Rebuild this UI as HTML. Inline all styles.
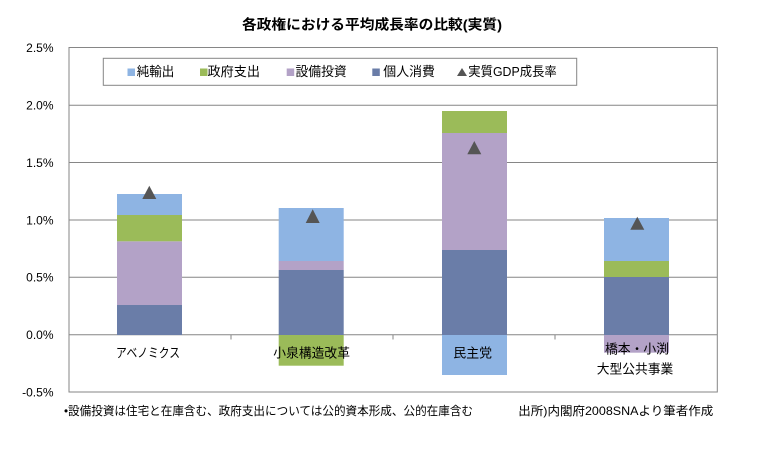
<!DOCTYPE html>
<html><head><meta charset="utf-8"><style>
html,body{margin:0;padding:0;background:#fff;}
svg{display:block;}
text{font-family:"Liberation Sans","Noto Sans CJK JP",sans-serif;fill:#000;}
</style></head><body>
<svg width="764" height="452" viewBox="0 0 764 452" xmlns="http://www.w3.org/2000/svg">
<rect x="0" y="0" width="764" height="452" fill="#fff"/>
<!-- title -->
<text x="242" y="29.5" font-size="14" font-weight="bold" textLength="260" lengthAdjust="spacingAndGlyphs">各政権における平均成長率の比較(実質)</text>
<!-- gridlines -->
<g stroke="#868686" stroke-width="1">
<line x1="69" y1="105.3" x2="717.3" y2="105.3"/>
<line x1="69" y1="162.5" x2="717.3" y2="162.5"/>
<line x1="69" y1="220" x2="717.3" y2="220"/>
<line x1="69" y1="277.3" x2="717.3" y2="277.3"/>
<line x1="69" y1="334.8" x2="717.3" y2="334.8"/>
<line x1="231" y1="334.8" x2="231" y2="339.5"/>
<line x1="393" y1="334.8" x2="393" y2="339.5"/>
<line x1="555" y1="334.8" x2="555" y2="339.5"/>
</g>
<!-- bars -->
<!-- Abenomics -->
<rect x="117" y="305" width="65" height="30" fill="#6A7DA8"/>
<rect x="117" y="241.3" width="65" height="63.7" fill="#B3A2C7"/>
<rect x="117" y="215" width="65" height="26.3" fill="#9BBB59"/>
<rect x="117" y="194" width="65" height="21" fill="#8EB4E3"/>
<!-- Koizumi -->
<rect x="278.7" y="270" width="65" height="65" fill="#6A7DA8"/>
<rect x="278.7" y="261" width="65" height="9" fill="#B3A2C7"/>
<rect x="278.7" y="208" width="65" height="53" fill="#8EB4E3"/>
<rect x="278.7" y="335" width="65" height="30.7" fill="#9BBB59"/>
<!-- Minshu -->
<rect x="442" y="250" width="65" height="85" fill="#6A7DA8"/>
<rect x="442" y="133" width="65" height="117" fill="#B3A2C7"/>
<rect x="442" y="111" width="65" height="22" fill="#9BBB59"/>
<rect x="442" y="335" width="65" height="40" fill="#8EB4E3"/>
<!-- Hashimoto -->
<rect x="604" y="277" width="65" height="58" fill="#6A7DA8"/>
<rect x="604" y="261" width="65" height="16" fill="#9BBB59"/>
<rect x="604" y="218" width="65" height="43" fill="#8EB4E3"/>
<rect x="604" y="335" width="65" height="17.7" fill="#B3A2C7"/>
<!-- triangles -->
<g fill="#555555">
<polygon points="149.3,185.7 156.3,199 142.3,199"/>
<polygon points="312.7,209.3 319.7,223 305.7,223"/>
<polygon points="474.3,141 481.3,154.3 467.3,154.3"/>
<polygon points="637.3,216.7 644.3,229.7 630.3,229.7"/>
</g>
<!-- plot border -->
<rect x="69" y="47.5" width="648.3" height="344.5" fill="none" stroke="#868686" stroke-width="1"/>
<!-- y labels -->
<g font-size="12" text-anchor="end">
<text x="53.5" y="52">2.5%</text>
<text x="53.5" y="109.6">2.0%</text>
<text x="53.5" y="166.8">1.5%</text>
<text x="53.5" y="224.3">1.0%</text>
<text x="53.5" y="281.6">0.5%</text>
<text x="53.5" y="339">0.0%</text>
<text x="53.5" y="396.5">-0.5%</text>
</g>
<!-- legend -->
<rect x="103.3" y="58.3" width="473.4" height="27" fill="#fff" stroke="#868686" stroke-width="1"/>
<rect x="127.5" y="68.5" width="7.5" height="7.5" fill="#8EB4E3"/>
<text x="136.7" y="76" font-size="13" textLength="37.6" lengthAdjust="spacingAndGlyphs">純輸出</text>
<rect x="200" y="68.5" width="7.5" height="7.5" fill="#9BBB59"/>
<text x="207.5" y="76" font-size="13" textLength="52.5" lengthAdjust="spacingAndGlyphs">政府支出</text>
<rect x="286.7" y="68.5" width="7.5" height="7.5" fill="#B3A2C7"/>
<text x="295.5" y="76" font-size="13" textLength="51.2" lengthAdjust="spacingAndGlyphs">設備投資</text>
<rect x="372.3" y="68.5" width="7.5" height="7.5" fill="#6A7DA8"/>
<text x="383.3" y="76" font-size="13" textLength="51.7" lengthAdjust="spacingAndGlyphs">個人消費</text>
<polygon points="462,68 467,76 457,76" fill="#555555"/>
<text x="468.3" y="76" font-size="13" textLength="88.4" lengthAdjust="spacingAndGlyphs">実質GDP成長率</text>
<!-- category labels -->
<text x="116" y="357.5" font-size="13" textLength="64" lengthAdjust="spacingAndGlyphs">アベノミクス</text>
<text x="273.3" y="357.5" font-size="13" textLength="76.7" lengthAdjust="spacingAndGlyphs">小泉構造改革</text>
<text x="453.3" y="357.5" font-size="13" textLength="38.7" lengthAdjust="spacingAndGlyphs">民主党</text>
<text x="605" y="353.3" font-size="13" textLength="64" lengthAdjust="spacingAndGlyphs">橋本・小渕</text>
<text x="596.7" y="373.3" font-size="13" textLength="76.6" lengthAdjust="spacingAndGlyphs">大型公共事業</text>
<!-- footnotes -->
<text x="64" y="415" font-size="12" textLength="409" lengthAdjust="spacingAndGlyphs">•設備投資は住宅と在庫含む、政府支出については公的資本形成、公的在庫含む</text>
<text x="518.3" y="415" font-size="12" textLength="195" lengthAdjust="spacingAndGlyphs">出所)内閣府2008SNAより筆者作成</text>
</svg>
</body></html>
